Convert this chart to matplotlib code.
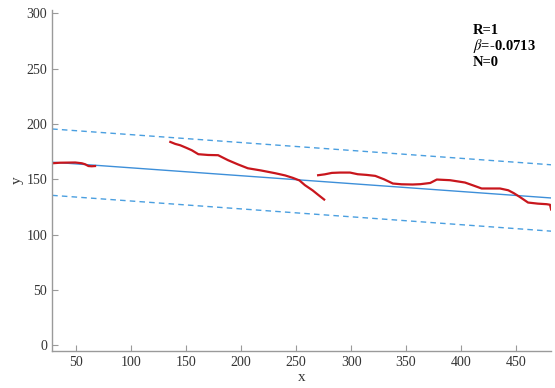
import matplotlib
matplotlib.use("Agg")
import matplotlib.pyplot as plt
import numpy as np

plt.rcParams['font.family'] = ['Liberation Serif', 'DejaVu Serif']
plt.rcParams['mathtext.fontset'] = 'stix'

# red traced segments (x, y)
seg1_x = [28, 35, 49, 55, 58, 61, 64, 67]
seg1_y = [164.5, 165, 165.2, 164.5, 163.6, 162, 161.8, 162]
seg2_x = [135.5, 140, 144.5, 150, 155, 161, 170, 179, 188, 197, 206, 218, 231, 240, 247, 253, 258, 265, 270, 275.5]
seg2_y = [183.8, 182, 180.8, 178.5, 176.3, 172.7, 172, 171.8, 167.3, 163.5, 160, 158, 155.5, 153.5, 151.3, 149, 144.7, 140, 136, 131.7]
seg3_x = [270, 276, 282.5, 290, 299, 306, 314, 322, 330, 338, 346, 356, 363, 372, 378, 390, 403.6, 411, 418.8, 427, 435.5, 443, 448,
          453.6, 461, 470, 478, 481, 482]
seg3_y = [153.7, 154.5, 155.8, 156.1, 156.1, 154.6, 154, 153.1, 150, 146.2, 145.5, 145.3, 145.6, 146.7, 149.8, 149.2, 147.1, 144.5, 141.7, 141.7, 141.7, 140.1, 137.5,
          134, 129, 128, 127.5, 127, 122.7]

beta = -0.0713
intercept = 167.5
band = 30
fit_x = np.array([28, 482])

fig = plt.figure(figsize=(5.55, 3.88), dpi=100)
ax = fig.add_axes([0.094, 0.096, 0.899, 0.878])

blue = '#3d8fd9'
ax.plot(fit_x, intercept + beta * fit_x, color=blue, lw=1.0)
ax.plot(fit_x, intercept + beta * fit_x + band, color='#4a9fe0', lw=1.0, ls=(0, (4, 3)))
ax.plot(fit_x, intercept + beta * fit_x - band, color='#4a9fe0', lw=1.0, ls=(0, (4, 3)))

red = '#c8161d'
for sx, sy in [(seg1_x, seg1_y), (seg2_x, seg2_y), (seg3_x, seg3_y)]:
    ax.plot(sx, sy, color=red, lw=1.6)

ax.set_xlim(28, 482)
ax.set_ylim(-5, 303)
ax.set_xticks([50, 100, 150, 200, 250, 300, 350, 400, 450])
ax.set_yticks([0, 50, 100, 150, 200, 250, 300])

for s in ['top', 'right']:
    ax.spines[s].set_visible(False)
for s in ['left', 'bottom']:
    ax.spines[s].set_color('#9a9a9a')
    ax.spines[s].set_linewidth(1.0)
ax.tick_params(direction='in', length=4, color='#9a9a9a', labelsize=10, labelcolor='#333333')
ax.set_xlabel('x', fontsize=11, color='#333333', labelpad=2)
ax.set_ylabel('y', fontsize=11, color='#333333', labelpad=2)

ax.text(0.843, 0.941, 'R=1', transform=ax.transAxes, fontsize=10.5, fontweight='bold', va='center')
ax.text(0.843, 0.894, r'$\beta$' + '=-0.0713', transform=ax.transAxes, fontsize=10.5, fontweight='bold', va='center')
ax.text(0.843, 0.847, 'N=0', transform=ax.transAxes, fontsize=10.5, fontweight='bold', va='center')

fig.savefig('out.png', dpi=100)
